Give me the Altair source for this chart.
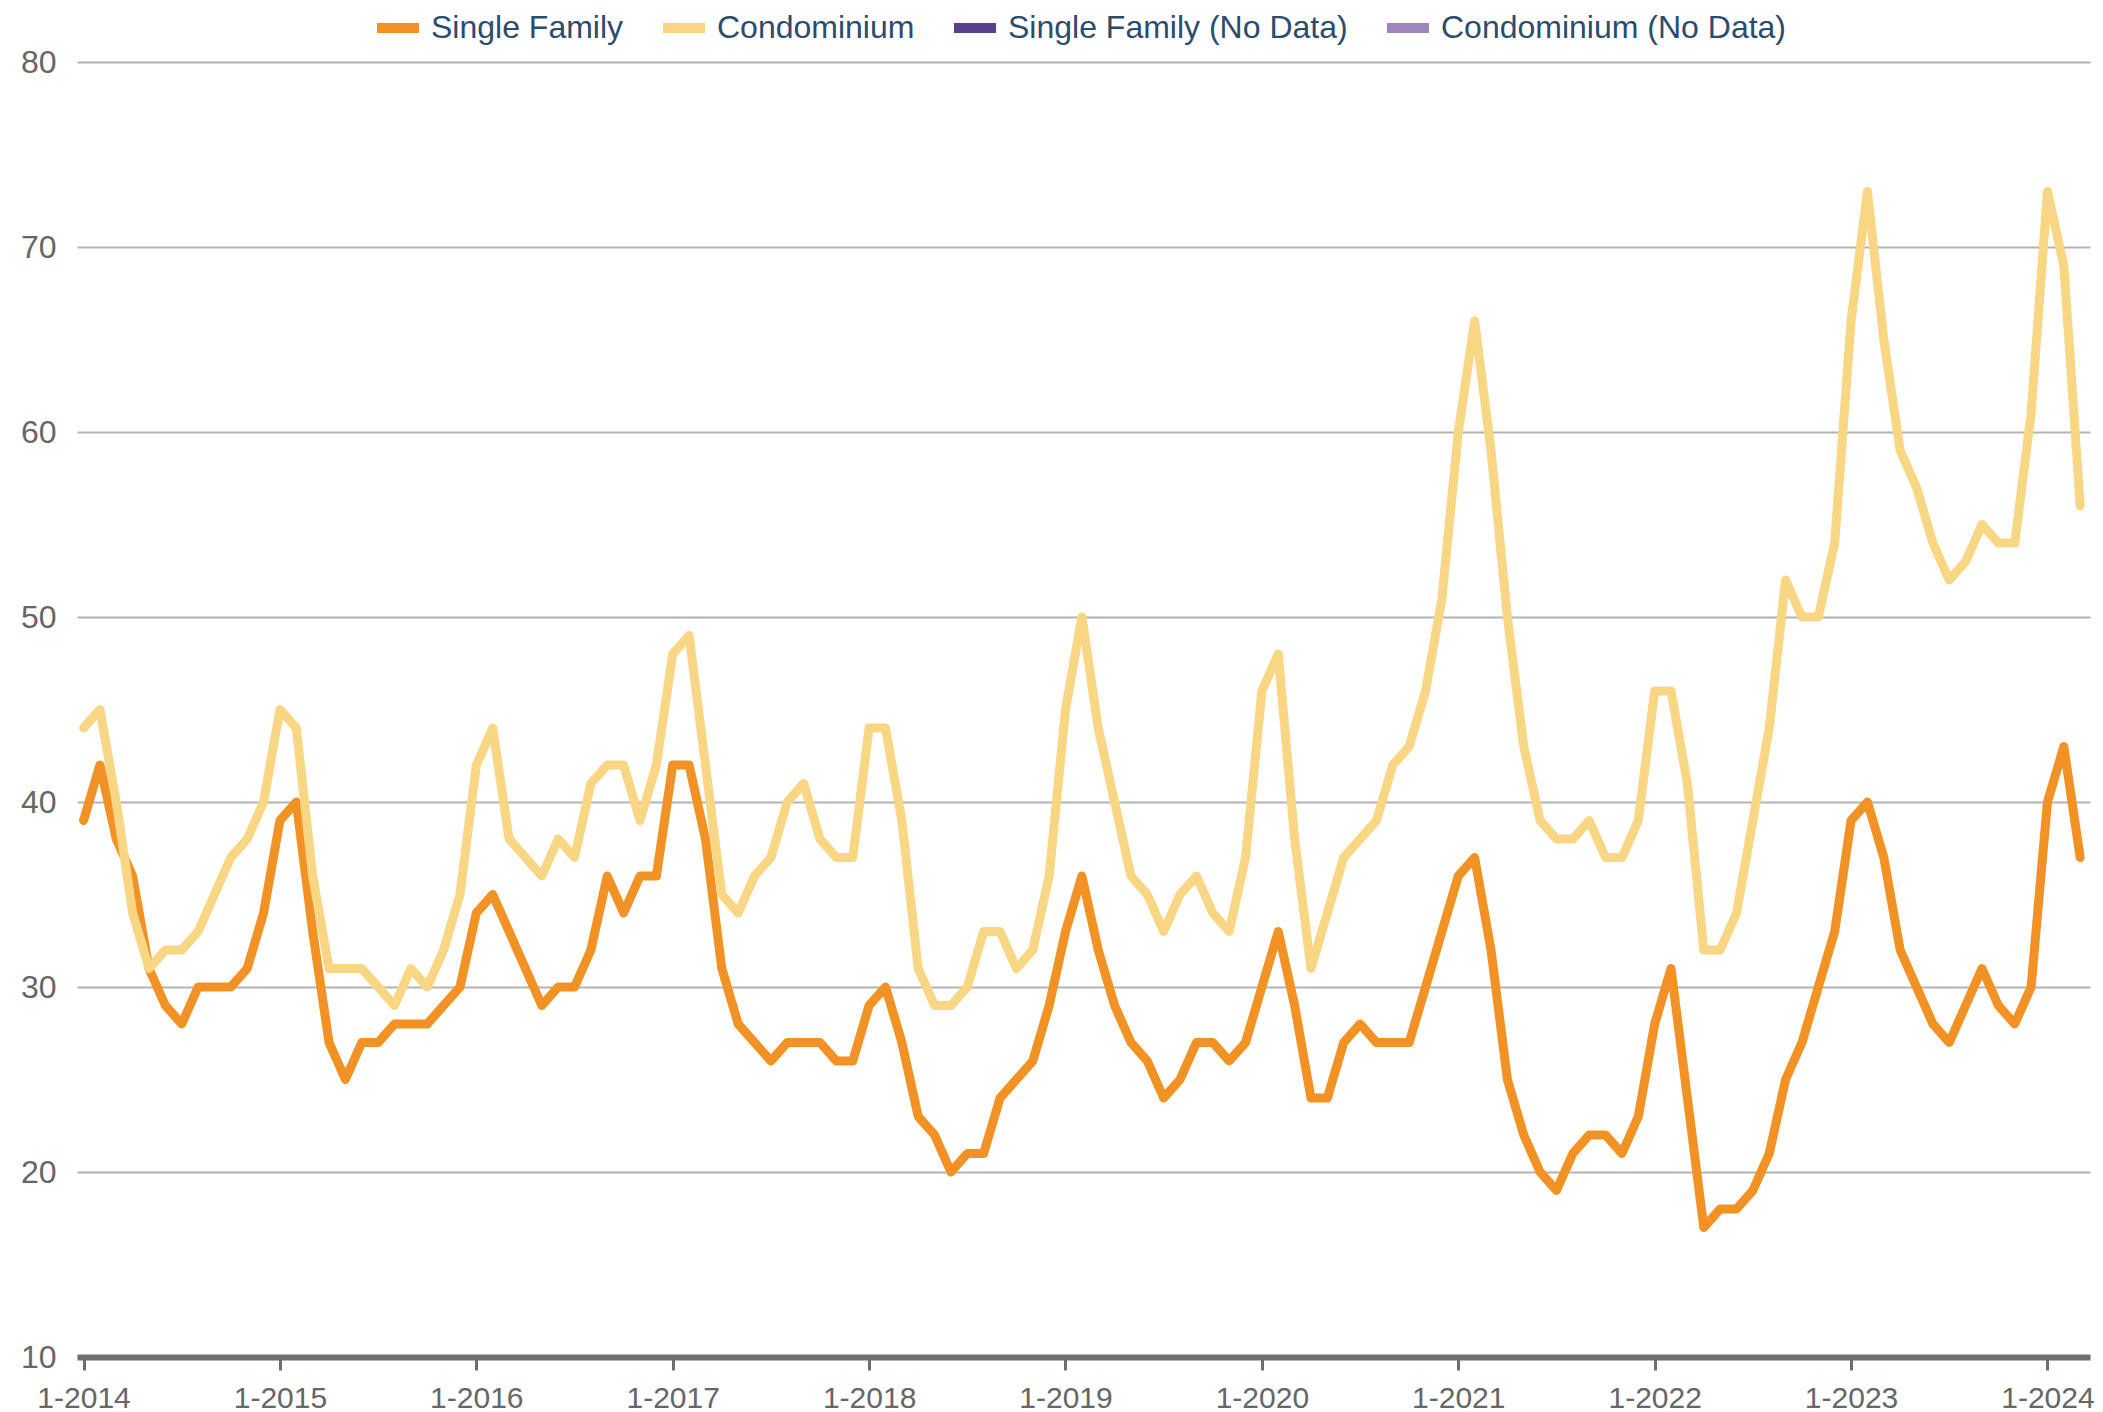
import altair as alt
import pandas as pd

# Month labels, 1-2014 .. 3-2024
years = list(range(2014, 2025))
months = [f"{m}-{y}" for y in years for m in range(1, 13)][:123]

single_family = [
    39, 42, 38, 36, 31, 29, 28, 30, 30, 30, 31, 34,   # 2014
    39, 40, 33, 27, 25, 27, 27, 28, 28, 28, 29, 30,   # 2015
    34, 35, 33, 31, 29, 30, 30, 32, 36, 34, 36, 36,   # 2016
    42, 42, 38, 31, 28, 27, 26, 27, 27, 27, 26, 26,   # 2017
    29, 30, 27, 23, 22, 20, 21, 21, 24, 25, 26, 29,   # 2018
    33, 36, 32, 29, 27, 26, 24, 25, 27, 27, 26, 27,   # 2019
    30, 33, 29, 24, 24, 27, 28, 27, 27, 27, 30, 33,   # 2020
    36, 37, 32, 25, 22, 20, 19, 21, 22, 22, 21, 23,   # 2021
    28, 31, 24, 17, 18, 18, 19, 21, 25, 27, 30, 33,   # 2022
    39, 40, 37, 32, 30, 28, 27, 29, 31, 29, 28, 30,   # 2023
    40, 43, 37,                                       # 2024
]

condominium = [
    44, 45, 40, 34, 31, 32, 32, 33, 35, 37, 38, 40,   # 2014
    45, 44, 36, 31, 31, 31, 30, 29, 31, 30, 32, 35,   # 2015
    42, 44, 38, 37, 36, 38, 37, 41, 42, 42, 39, 42,   # 2016
    48, 49, 42, 35, 34, 36, 37, 40, 41, 38, 37, 37,   # 2017
    44, 44, 39, 31, 29, 29, 30, 33, 33, 31, 32, 36,   # 2018
    45, 50, 44, 40, 36, 35, 33, 35, 36, 34, 33, 37,   # 2019
    46, 48, 38, 31, 34, 37, 38, 39, 42, 43, 46, 51,   # 2020
    60, 66, 59, 50, 43, 39, 38, 38, 39, 37, 37, 39,   # 2021
    46, 46, 41, 32, 32, 34, 39, 44, 52, 50, 50, 54,   # 2022
    66, 73, 65, 59, 57, 54, 52, 53, 55, 54, 54, 61,   # 2023
    73, 69, 56,                                       # 2024
]

series_names = ["Single Family", "Condominium",
                "Single Family (No Data)", "Condominium (No Data)"]
series_colors = ["#F39224", "#F9D684", "#5B3E8F", "#9E85BE"]

y_ticks = [10, 20, 30, 40, 50, 60, 70, 80]
x_ticks = [i for i, m in enumerate(months) if m.startswith("1-")]

rows = []
for i, m in enumerate(months):
    rows.append({"idx": i, "month": m, "series": "Single Family", "value": single_family[i]})
    rows.append({"idx": i, "month": m, "series": "Condominium", "value": condominium[i]})
df = pd.DataFrame(rows)

FONT = "Liberation Sans"

x_enc = alt.X(
    "idx:Q",
    scale=alt.Scale(domain=[-0.4, 122.6], nice=False, zero=False),
    axis=alt.Axis(
        values=x_ticks,
        labelExpr="'1-' + (2014 + floor(datum.value / 12))",
        grid=False,
        domain=True, domainColor="#6E6E6E", domainWidth=6,
        ticks=True, tickSize=13, tickWidth=3, tickColor="#6E6E6E",
        labelFont=FONT, labelFontSize=30, labelColor="#666666",
        labelPadding=13, labelOverlap=False, labelBound=False, title=None,
    ),
)
y_enc = alt.Y(
    "value:Q",
    scale=alt.Scale(domain=[10, 80], nice=False, zero=False),
    axis=alt.Axis(
        values=y_ticks, grid=True, gridColor="#B3B3B3", gridWidth=2,
        domain=False, ticks=False, tickSize=0,
        labelFont=FONT, labelFontSize=32, labelColor="#666666",
        labelPadding=21, title=None,
    ),
)
color_enc = alt.Color(
    "series:N",
    scale=alt.Scale(domain=series_names, range=series_colors),
    legend=alt.Legend(
        title=None, orient="none", direction="horizontal", columns=4,
        legendX=295, legendY=-60,
        symbolType="stroke", symbolStrokeWidth=10, symbolSize=1764,
        labelFont=FONT, labelFontSize=32, labelColor="#2B4C6F",
        labelOffset=7, columnPadding=19, symbolOpacity=1, labelLimit=0,
    ),
)

line_sf = alt.Chart(df).transform_filter(
    alt.datum.series == "Single Family"
).mark_line(strokeWidth=9, strokeJoin="round", strokeCap="round").encode(
    x=x_enc, y=y_enc, color=color_enc
)
line_co = alt.Chart(df).transform_filter(
    alt.datum.series == "Condominium"
).mark_line(strokeWidth=9, strokeJoin="round", strokeCap="round").encode(
    x=x_enc, y=y_enc, color=color_enc
)

chart = alt.layer(line_sf, line_co).properties(
    width=2013, height=1295,
    background="white",
    autosize=alt.AutoSizeParams(type="none"),
    padding={"left": 69, "top": 54, "right": 5, "bottom": 60},
).configure_view(stroke=None)

chart.save("out.html", embed_options={"renderer": "svg", "actions": False})
